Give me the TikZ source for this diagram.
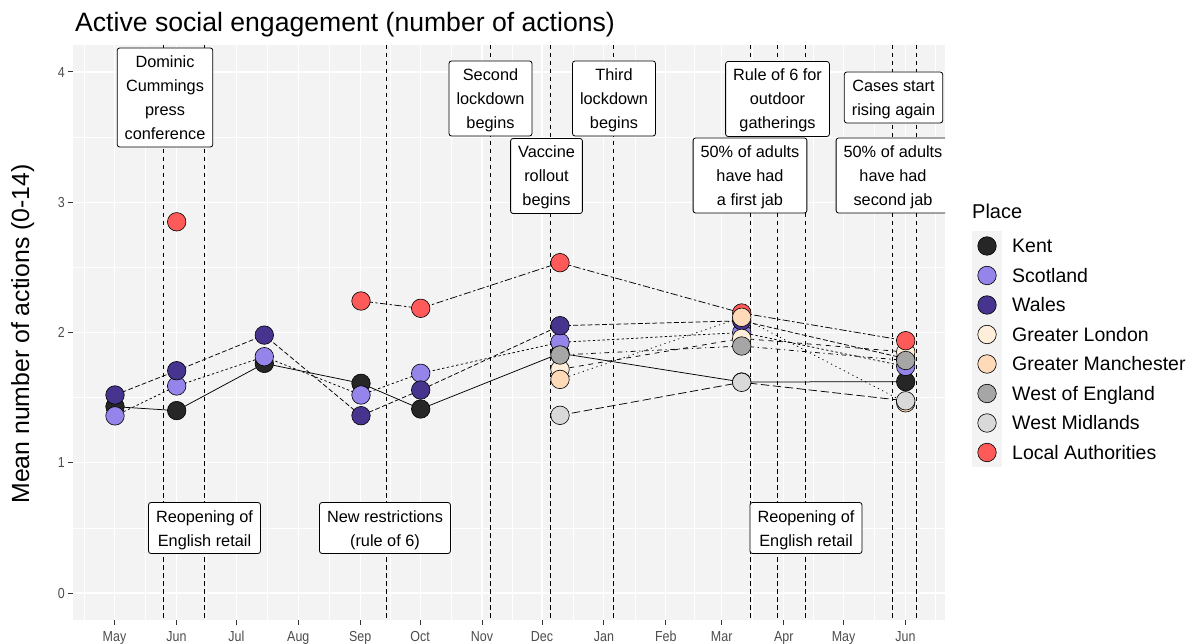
\documentclass[tikz,border=0pt]{standalone}
\usepackage{fontspec}
\setmainfont{Liberation Sans}
\definecolor{cKent}{HTML}{262626}
\definecolor{cScot}{HTML}{9584EA}
\definecolor{cWales}{HTML}{46348F}
\definecolor{cGL}{HTML}{FFEFDA}
\definecolor{cGM}{HTML}{FFDAB9}
\definecolor{cWoE}{HTML}{A6A6A6}
\definecolor{cWM}{HTML}{D9D9D9}
\definecolor{cLA}{HTML}{FF5A5A}
\definecolor{panelbg}{HTML}{F3F3F3}
\definecolor{axisgrey}{HTML}{4D4D4D}
\definecolor{tickgrey}{HTML}{333333}
\newcommand\lnstrut{\rule[-6pt]{0pt}{24pt}}
\newcommand\narrowlab[1]{\scalebox{0.86}[1]{#1}}
\tikzset{
  pt/.style={circle, draw=black, line width=0.6pt, minimum size=18.5pt, inner sep=0pt},
  evline/.style={black, line width=0.8pt, dash pattern=on 4.5pt off 3.5pt},
  majgrid/.style={white, line width=1.1pt},
  mingrid/.style={white, line width=0.55pt},
  annot/.style={draw=black, fill=white, rounded corners=2.5pt, line width=0.8pt,
    align=center, font=\fontsize{16.3}{24}\selectfont, inner xsep=7.5pt, inner ysep=1.5pt},
  dline/.style={black, line width=0.75pt},
  lKent/.style={dline},
  lScot/.style={dline, dash pattern=on 2.4pt off 2.4pt},
  lWales/.style={dline, dash pattern=on 4.8pt off 2.4pt},
  lGL/.style={dline, dash pattern=on 4.8pt off 4.8pt},
  lGM/.style={dline, dash pattern=on 1.2pt off 3.6pt},
  lWoE/.style={dline, dash pattern=on 1.2pt off 3.6pt on 4.8pt off 3.6pt},
  lWM/.style={dline, dash pattern=on 8.4pt off 3.6pt},
  lLA/.style={dline, dash pattern=on 2.4pt off 2.4pt on 7.2pt off 2.4pt},
  ticklab/.style={text=axisgrey, font=\fontsize{14.5}{16}\selectfont, inner sep=0pt},
  legtext/.style={font=\fontsize{19.5}{22}\selectfont, inner sep=0pt},
}
\begin{document}
\begin{tikzpicture}[x=1pt,y=-1pt]
\useasboundingbox (0,0) rectangle (1195,644);
\fill[white] (0,0) rectangle (1195,644);

% title
\node[anchor=base west, inner sep=0pt, font=\fontsize{26.6}{30}\selectfont] (title) at (75,32) {Active social engagement (number of actions)};

% y axis title
\node[rotate=90, anchor=base, inner sep=0pt, font=\fontsize{24.8}{28}\selectfont] (ytitle) at (29,334) {Mean number of actions (0-14)};

% panel
\fill[panelbg] (72.5,45) rectangle (945,620);
\begin{scope}
\clip (72.5,45) rectangle (945,620);
\foreach \yy in {527.9,397.6,267.4,137.1} \draw[mingrid] (72.5,\yy) -- (945,\yy);
\foreach \xx in {84.5,145.5,206.4,267.4,329.3,390.2,451.1,512.0,573.0,634.9,693.8,752.7,813.7,874.6,935.5} \draw[mingrid] (\xx,45) -- (\xx,620);
\foreach \yy in {593,462.75,332.5,202.25,72} \draw[majgrid] (72.5,\yy) -- (945,\yy);
\foreach \xx in {114.5,176.4,236.4,298.3,360.2,420.1,482.0,542.0,603.9,665.8,721.7,783.7,843.6,905.5} \draw[majgrid] (\xx,45) -- (\xx,620);

% event lines
\foreach \xx [count=\i] in {163,204.5,386.5,490.5,550.5,613.5,750,777.7,805.3,892.8,916} {
  \coordinate (et\i) at (\xx,45);
  \coordinate (eb\i) at (\xx,620);
  \draw[evline] (et\i) -- (eb\i);
}

% data coordinates
\coordinate (k1) at (115,406.7);   \coordinate (k2) at (176.7,410.6);
\coordinate (k3) at (264.3,363.4); \coordinate (k4) at (361,383.3);
\coordinate (k5) at (420.7,409.0); \coordinate (k6) at (560,353.3);
\coordinate (k7) at (741.7,382.0); \coordinate (k8) at (905.7,381.7);
\coordinate (s1) at (115,415.9);   \coordinate (s2) at (176.7,386.0);
\coordinate (s3) at (264.3,356.7); \coordinate (s4) at (361,395.0);
\coordinate (s5) at (420.7,373.3); \coordinate (s6) at (560,342.3);
\coordinate (s7) at (741.7,332.5); \coordinate (s8) at (905.7,366.4);
\coordinate (w1) at (115,395.0);   \coordinate (w2) at (176.7,370.7);
\coordinate (w3) at (264.3,335.1); \coordinate (w4) at (361,415.7);
\coordinate (w5) at (420.7,390.0); \coordinate (w6) at (560,325.7);
\coordinate (w7) at (741.7,320.8); \coordinate (w8) at (905.7,358.6);
\coordinate (a2) at (176.7,221.8); \coordinate (a4) at (361,301.0);
\coordinate (a5) at (420.7,308.3); \coordinate (a6) at (560,262.7);
\coordinate (a7) at (741.7,313.0); \coordinate (a8) at (905.7,340.7);
\coordinate (l6) at (560,369.4); \coordinate (l7) at (741.7,338.4); \coordinate (l8) at (905.7,352);
\coordinate (m6) at (560,379.4); \coordinate (m7) at (741.7,317.3); \coordinate (m8) at (905.7,402.8);
\coordinate (e6) at (560,355.0); \coordinate (e7) at (741.7,346.0); \coordinate (e8) at (905.7,360.5);
\coordinate (d6) at (560,415.3); \coordinate (d7) at (741.7,382.3); \coordinate (d8) at (905.7,400.8);

% lines
\draw[lKent] (k1) -- (k2) -- (k3) -- (k4) -- (k5) -- (k6) -- (k7) -- (k8);
\draw[lScot] (s1) -- (s2) -- (s3) -- (s4) -- (s5) -- (s6) -- (s7) -- (s8);
\draw[lWales] (w1) -- (w2) -- (w3) -- (w4) -- (w5) -- (w6) -- (w7) -- (w8);
\draw[lGL] (l6) -- (l7) -- (l8);
\draw[lGM] (m6) -- (m7) -- (m8);
\draw[lWoE] (e6) -- (e7) -- (e8);
\draw[lWM] (d6) -- (d7) -- (d8);
\draw[lLA] (a4) -- (a5) -- (a6) -- (a7) -- (a8);

% points
\foreach \c in {k1,k2,k3,k4,k5,k6,k7,k8} \node[pt, fill=cKent] (P\c) at (\c) {};
\foreach \c in {s1,s2,s3,s4,s5,s6,s7,s8} \node[pt, fill=cScot] (P\c) at (\c) {};
\foreach \c in {w1,w2,w3,w4,w5,w6,w7,w8} \node[pt, fill=cWales] (P\c) at (\c) {};
\foreach \c in {l6,l7,l8} \node[pt, fill=cGL] (P\c) at (\c) {};
\foreach \c in {a2,a4,a5,a6,a7,a8} \node[pt, fill=cLA] (P\c) at (\c) {};
\foreach \c in {m6,m7,m8} \node[pt, fill=cGM] (P\c) at (\c) {};
\foreach \c in {e6,e7,e8} \node[pt, fill=cWoE] (P\c) at (\c) {};
\foreach \c in {d6,d7,d8} \node[pt, fill=cWM] (P\c) at (\c) {};

% annotations
\node[annot] (A1) at (165,97.5) {\lnstrut Dominic\\\lnstrut Cummings\\\lnstrut press\\\lnstrut conference};
\node[annot] (A2) at (204.5,528) {\lnstrut Reopening of\\\lnstrut English retail};
\node[annot] (A3) at (385,528) {\lnstrut New restrictions\\\lnstrut (rule of 6)};
\node[annot] (A4) at (490.5,98.5) {\lnstrut Second\\\lnstrut lockdown\\\lnstrut begins};
\node[annot] (A5) at (546.5,176) {\lnstrut Vaccine\\\lnstrut rollout\\\lnstrut begins};
\node[annot] (A6) at (614,98.5) {\lnstrut Third\\\lnstrut lockdown\\\lnstrut begins};
\node[annot] (A7) at (777.5,99) {\lnstrut Rule of 6 for\\\lnstrut outdoor\\\lnstrut gatherings};
\node[annot] (A8) at (750,175.5) {\lnstrut 50\% of adults\\\lnstrut have had\\\lnstrut a first jab};
\node[annot] (A9) at (893.5,97.5) {\lnstrut Cases start\\\lnstrut rising again};
\node[annot] (A10) at (893,175.5) {\lnstrut 50\% of adults\\\lnstrut have had\\\lnstrut second jab};
\node[annot] (A11) at (806,528) {\lnstrut Reopening of\\\lnstrut English retail};
\end{scope}

% axis ticks and labels
\foreach \yy/\t [count=\i] in {593/0,462.75/1,332.5/2,202.25/3,72/4} {
  \draw[tickgrey, line width=1pt] (67.5,\yy) -- (72.5,\yy);
  \node[ticklab, anchor=base east] (yl\i) at (65,\yy+5.2) {\narrowlab{\t}};
}
\foreach \xx/\m [count=\i] in {114.5/May,176.4/Jun,236.4/Jul,298.3/Aug,360.2/Sep,420.1/Oct,482.0/Nov,542.0/Dec,603.9/Jan,665.8/Feb,721.7/Mar,783.7/Apr,843.6/May,905.5/Jun} {
  \draw[tickgrey, line width=1pt] (\xx,620) -- (\xx,624.5);
  \node[ticklab, anchor=base] (xl\i) at (\xx,641) {\narrowlab{\m}};
}

% legend
\node[anchor=base west, inner sep=0pt, font=\fontsize{20}{24}\selectfont] (legtitle) at (972,219) {Place};
\fill[panelbg] (972,231) rectangle (1002,467);
\foreach \yy/\c/\t [count=\i] in {246/cKent/Kent,275.5/cScot/Scotland,305/cWales/Wales,334.5/cGL/Greater London,364/cGM/Greater Manchester,393.5/cWoE/West of England,423/cWM/West Midlands,452.5/cLA/Local Authorities} {
  \node[pt, fill=\c] (key\i) at (987,\yy) {};
  \node[legtext, anchor=base west] (leg\i) at (1012,\yy+7) {\t};
}
\end{tikzpicture}
\end{document}
